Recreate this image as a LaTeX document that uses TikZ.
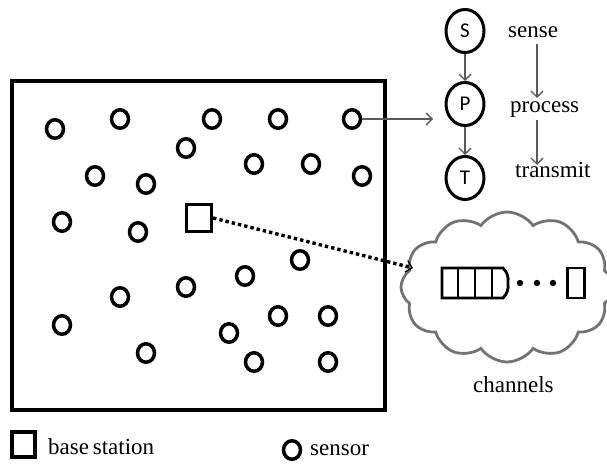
\documentclass[tikz,border=0pt]{standalone}
\usepackage{fontspec}
\setmainfont{Liberation Serif}
\newfontfamily\sansf{Carlito}
\usetikzlibrary{shapes.geometric,shapes.symbols,arrows.meta}
\begin{document}
\begin{tikzpicture}[x=1pt,y=-1pt,
  sensor/.style={draw,line width=3.5pt,ellipse,minimum width=17pt,minimum height=18.5pt,inner sep=0pt},
  spt/.style={draw,line width=3pt,ellipse,minimum width=38pt,minimum height=43pt,inner sep=0pt,font=\sansf\fontsize{21}{23}\selectfont},
  lab/.style={font=\fontsize{23}{25}\selectfont,inner sep=0pt,anchor=base west},
  garrow/.style={draw=black!65,line width=1.3pt,-{Straight Barb[length=6pt,width=12pt,line width=1.3pt]}},
  bsbox/.style={draw,line width=3.2pt,minimum width=25pt,minimum height=27pt,inner sep=0pt}]
\useasboundingbox (0,0) rectangle (607,465);
\clip (0,0) rectangle (607,465);
% field
\node[draw,line width=3.5pt,minimum width=373pt,minimum height=329pt,inner sep=0pt] (field) at (198.5,245.5) {};
% sensors
\foreach \n/\x/\y in {1/55/129,2/120/119,3/212/119,4/278/119,5/352/119,6/186/148,7/95/176,8/146/184,9/254/164,10/311/164,11/362/176,12/62/222,13/138/232,14/300/260,15/245/276,16/186/287,17/120/297,18/62/325,19/229/333,20/278/316,21/328/316,22/146/353,23/254/362,24/328/362}
  \node[sensor] (s\n) at (\x,\y) {};
% base station
\node[bsbox] (bs) at (199,218) {};
% S P T
\node[spt] (S) at (465,31) {S};
\node[spt] (P) at (465,104) {P};
\node[spt] (T) at (465,178) {T};
\draw[garrow] (S) -- (P);
\draw[garrow] (P) -- (T);
\coordinate (ptip) at (433,119);
\draw[garrow] (s5.east) -- (ptip);
% labels
\node[lab] (sense) at (508,38) {sense};
\node[lab] (process) at (510,113) {process};
\node[lab] (transmit) at (515,178) {transmit};
\coordinate (a1) at (537,44);
\coordinate (a2) at (537,98);
\coordinate (a3) at (537,120);
\coordinate (a4) at (537,165);
\draw[garrow] (a1) -- (a2);
\draw[garrow] (a3) -- (a4);
% cloud
\node[cloud,draw=black!55,line width=2.8pt,cloud puffs=12,cloud puff arc=110,aspect=1.45,minimum width=212pt,minimum height=150pt] (cloud) at (507,287) {};
\coordinate (ctip) at (413,268);
\draw[line width=3.4pt,dash pattern=on 3.4pt off 3pt,-{Straight Barb[length=6pt,width=12pt,line width=1.3pt]}] (bs.east) -- (ctip);
% queue
\draw[line width=2.8pt] (442,268) -- (503,268) to[bend left=25] (508,283) to[bend left=25] (503,298) -- (442,298) -- cycle;
\draw[line width=1.6pt] (458,268) -- (458,298) (475,268) -- (475,298);
\draw[line width=2.8pt] (492,268) -- (492,298);
\foreach \x in {520,537,553} \fill (\x,283) circle (3.2pt);
\node[draw,line width=2.8pt,minimum width=17pt,minimum height=30pt,inner sep=0pt] (q2) at (576,283) {};
\node[lab] (channels) at (473,392) {channels};
% legend
\node[bsbox,minimum width=23pt,minimum height=25pt] (lbs) at (23.5,444.5) {};
\node[lab] (lbstext) at (48,454) {base\,station};
\node[sensor] (lsen) at (292,450) {};
\node[lab] (lsentext) at (310,455) {sensor};
\end{tikzpicture}
\end{document}
